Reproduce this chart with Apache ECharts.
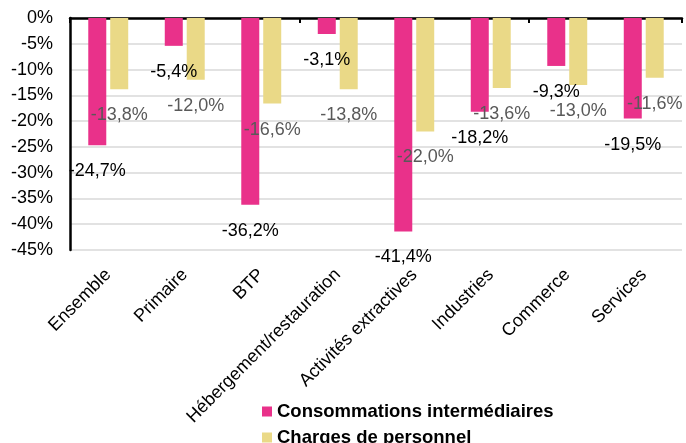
<!DOCTYPE html>
<html>
<head>
<meta charset="utf-8">
<script src="https://cdn.jsdelivr.net/npm/echarts@6/dist/echarts.min.js"></script>
<style>
  html, body { margin: 0; padding: 0; background: #fff; }
  #chart { width: 686px; height: 443px; }
</style>
</head>
<body>
<div id="chart"></div>
<script>
// Sector categories
const categories = ['Ensemble', 'Primaire', 'BTP', 'Hébergement/restauration',
  'Activités extractives', 'Industries', 'Commerce', 'Services'];

// Change in intermediate consumption (%)
const consommations = [-24.7, -5.4, -36.2, -3.1, -41.4, -18.2, -9.3, -19.5];

// Change in staff costs (%)
const charges = [-13.8, -12.0, -16.6, -13.8, -22.0, -13.6, -13.0, -11.6];

// Value axis ticks
const yMin = -45;
const yMax = 0;
const yStep = 5;

const SERIES_CI = 'Consommations intermédiaires';
const SERIES_CP = 'Charges de personnel';

const FONT = 'Arial, "Liberation Sans", sans-serif';
const fmtPct = v => v.toFixed(1).replace('.', ',') + '%';

// One legend block per row, stacked under the axis labels
const legendRow = (name, top) => ({
  left: 257,
  top: top,
  itemWidth: 10,
  itemHeight: 10,
  itemGap: 8,
  icon: 'rect',
  textStyle: { fontFamily: FONT, fontSize: 18.5, fontWeight: 'bold', color: '#000' },
  data: [name]
});

const chart = echarts.init(document.getElementById('chart'), null, { renderer: 'canvas' });

chart.setOption({
  animation: false,
  backgroundColor: '#ffffff',
  grid: { left: 70, right: 4, top: 18, bottom: 193, containLabel: false },
  legend: [legendRow(SERIES_CI, 397), legendRow(SERIES_CP, 423)],
  xAxis: [
    {
      type: 'category',
      data: categories,
      position: 'bottom',
      axisLine: { show: false, onZero: false },
      axisTick: { show: false },
      axisLabel: {
        interval: 0,
        rotate: 45,
        margin: 22,
        fontFamily: FONT,
        fontSize: 18,
        color: '#000'
      }
    },
    {
      type: 'category',
      data: categories,
      position: 'top',
      axisLine: { show: true, onZero: false, lineStyle: { color: '#000', width: 2.5 } },
      axisTick: { show: true, inside: true, length: 5, lineStyle: { color: '#000', width: 2 } },
      axisLabel: { show: false }
    }
  ],
  yAxis: {
    type: 'value',
    min: yMin,
    max: yMax,
    interval: yStep,
    axisLine: { show: true, lineStyle: { color: '#000', width: 2.5 } },
    axisTick: { show: false },
    axisLabel: {
      margin: 17,
      fontFamily: FONT,
      fontSize: 18,
      color: '#000',
      formatter: v => v + '%'
    },
    splitLine: { show: true, lineStyle: { color: '#d9d9d9', width: 1.5 } }
  },
  series: [
    {
      name: SERIES_CI,
      type: 'bar',
      data: consommations,
      barWidth: 18,
      barGap: '22%',
      itemStyle: { color: '#e9318a' },
      label: {
        show: true,
        position: 'bottom',
        distance: 17,
        fontFamily: FONT,
        fontSize: 18,
        color: '#000',
        formatter: p => fmtPct(p.value)
      }
    },
    {
      name: SERIES_CP,
      type: 'bar',
      data: charges,
      barWidth: 18,
      barGap: '22%',
      itemStyle: { color: '#ead987' },
      label: {
        show: true,
        position: 'bottom',
        distance: 17,
        fontFamily: FONT,
        fontSize: 18,
        color: '#595959',
        formatter: p => fmtPct(p.value)
      }
    }
  ]
});
</script>
</body>
</html>
